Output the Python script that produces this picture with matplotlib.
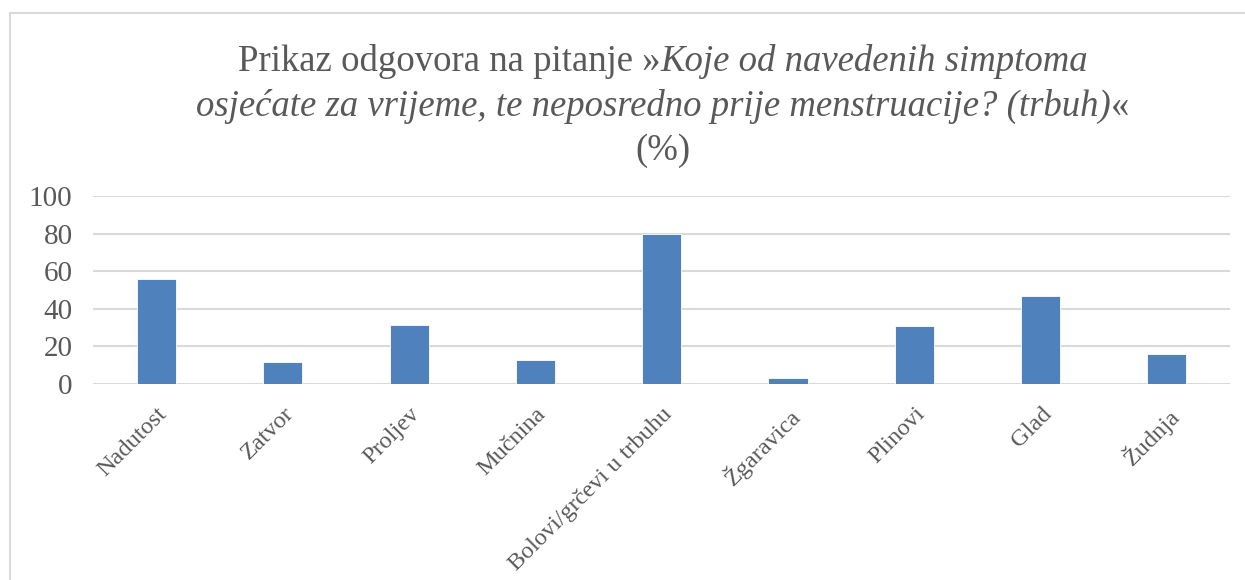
import matplotlib.pyplot as plt
from matplotlib.offsetbox import TextArea, HPacker, VPacker, AnchoredOffsetbox
from matplotlib.patches import Rectangle

# podaci
kategorije = ["Nadutost", "Zatvor", "Proljev", "Mučnina", "Bolovi/grčevi u trbuhu",
              "Žgaravica", "Plinovi", "Glad", "Žudnja"]
postotci = [56.0, 11.8, 31.6, 12.7, 80.0, 3.2, 30.6, 46.6, 16.2]
y_ticks = [0, 20, 40, 60, 80, 100]

plt.rcParams['font.family'] = ['Liberation Serif', 'DejaVu Serif']
siva = "#595959"

fig = plt.figure(figsize=(12.45, 5.8), dpi=100)
ax = fig.add_axes([0.075, 0.338, 0.913, 0.324])

x = range(len(kategorije))
ax.bar(x, postotci, width=0.31, color="#4f81bd", edgecolor="white", linewidth=0.6, zorder=3)

ax.set_ylim(0, 100)
ax.set_xlim(-0.5, len(kategorije) - 0.5)
ax.set_yticks(y_ticks)
ax.set_yticklabels([str(v) for v in y_ticks], fontsize=21, color=siva)
ax.set_xticks(list(x))
ax.set_xticklabels(kategorije, rotation=45, ha="right", rotation_mode="anchor",
                   fontsize=17.5, color=siva)
ax.tick_params(axis="both", length=0)
ax.tick_params(axis="y", pad=15)
ax.tick_params(axis="x", pad=14)
ax.grid(axis="y", color="#d9d9d9", linewidth=1.5, zorder=0)
for s in ax.spines.values():
    s.set_visible(False)

# naslov s miješanim stilovima
fs = 26.5
def ta(t, style="normal"):
    return TextArea(t, textprops=dict(fontsize=fs, color=siva, fontstyle=style))

red1 = HPacker(children=[ta("Prikaz odgovora na pitanje »"), ta("Koje od navedenih simptoma", "italic")],
               align="baseline", pad=0, sep=0)
red2 = HPacker(children=[ta("osjećate za vrijeme, te neposredno prije menstruacije? (trbuh)", "italic"), ta("«")],
               align="baseline", pad=0, sep=0)
red3 = HPacker(children=[ta("(%)")], align="baseline", pad=0, sep=0)
naslov = VPacker(children=[red1, red2, red3], align="center", pad=0, sep=7)
box = AnchoredOffsetbox(loc="upper center", child=naslov, pad=0, frameon=False,
                        bbox_to_anchor=(663 / 1245, 1 - 37 / 580),
                        bbox_transform=fig.transFigure)
fig.add_artist(box)

# okvir grafikona
fig.add_artist(Rectangle((10 / 1245, -0.1), 1.2, 1 - 13 / 580 + 0.1,
                         transform=fig.transFigure, fill=False,
                         edgecolor="#d9d9d9", linewidth=1.5))

fig.savefig("out.png", dpi=100)
